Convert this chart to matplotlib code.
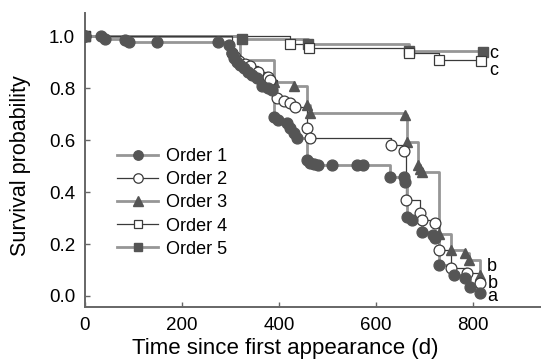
import numpy as np
import matplotlib
matplotlib.use('Agg')
import matplotlib.pyplot as plt

plt.rcParams['font.family'] = ['Liberation Sans', 'DejaVu Sans']

# Kaplan-Meier style survival curves
t1 = [0, 34, 41, 83, 91, 148, 275, 297, 303, 307, 313, 320, 327, 337, 344,
      354, 365, 378, 386, 390, 398, 417, 423, 430, 437, 457, 464, 472, 481, 509,
      561, 574, 629, 657, 660, 664, 675, 695, 718, 722, 729, 760, 784, 793, 815]
s1 = [1.0, 1.0, 0.99, 0.985, 0.978, 0.978, 0.978, 0.965, 0.935, 0.915, 0.9, 0.888, 0.877, 0.862, 0.85,
      0.838, 0.81, 0.8, 0.792, 0.688, 0.677, 0.665, 0.646, 0.627, 0.608, 0.523, 0.512, 0.508, 0.505, 0.505,
      0.505, 0.505, 0.46, 0.46, 0.44, 0.305, 0.292, 0.247, 0.235, 0.223, 0.119, 0.08, 0.069, 0.036, 0.012]

t2 = [0, 303, 310, 318, 330, 340, 357, 378, 382, 396, 410, 423, 433, 457, 464,
      630, 657, 662, 690, 695, 722, 729, 755, 788, 815]
s2 = [1.0, 0.935, 0.92, 0.905, 0.895, 0.885, 0.862, 0.843, 0.83, 0.762, 0.75, 0.742, 0.727, 0.646, 0.608,
      0.58, 0.56, 0.37, 0.318, 0.292, 0.28, 0.177, 0.108, 0.088, 0.05]

t3 = [0, 320, 390, 430, 457, 464, 660, 664, 687, 690, 695, 729, 755, 784, 791, 815]
s3 = [1.0, 0.908, 0.824, 0.81, 0.735, 0.705, 0.696, 0.593, 0.503, 0.49, 0.478, 0.24, 0.177, 0.165, 0.138, 0.08]

t4 = [0, 423, 462, 667, 729, 817]
s4 = [1.0, 0.97, 0.955, 0.935, 0.91, 0.905]

t5 = [0, 323, 460, 667, 820]
s5 = [1.0, 0.99, 0.97, 0.945, 0.938]

# group letters at the curve ends
end_labels = ['c', 'c', 'b', 'b', 'a']
label_x = [842, 842, 838, 840, 840]
label_y = [0.935, 0.87, 0.115, 0.048, -0.002]

thick = '#969696'
dark = '#555555'
thin = '#3a3a3a'

fig = plt.figure(figsize=(5.41, 3.61), dpi=100)
ax = fig.add_axes([0.157, 0.15, 0.843, 0.814])

series = [
    (t1, s1, 'Order 1', dict(color=thick, lw=2.0, marker='o', ms=7.8, mfc=dark, mec=dark)),
    (t2, s2, 'Order 2', dict(color=thin, lw=0.9, marker='o', ms=7.8, mfc='white', mec=thin, mew=0.9)),
    (t3, s3, 'Order 3', dict(color=thick, lw=2.0, marker='^', ms=7.8, mfc=dark, mec=dark)),
    (t4, s4, 'Order 4', dict(color=thin, lw=0.9, marker='s', ms=6.8, mfc='white', mec=thin, mew=0.9)),
    (t5, s5, 'Order 5', dict(color=thick, lw=2.0, marker='s', ms=6.8, mfc=dark, mec=dark)),
]

# draw in reverse so Order 1 sits on top
handles = {}
for t, s, name, st in reversed(series):
    ax.step(t, s, where='post', color=st['color'], lw=st['lw'], zorder=2)
    ax.plot(t, s, ls='none', marker=st['marker'], ms=st['ms'], mfc=st['mfc'],
            mec=st['mec'], mew=st.get('mew', 1.0), zorder=3)
    h, = ax.plot([], [], color=st['color'], lw=st['lw'], marker=st['marker'],
                 ms=st['ms'] - 1, mfc=st['mfc'], mec=st['mec'], mew=st.get('mew', 1.0))
    handles[name] = h

for lab, lx, ly in zip(end_labels, label_x, label_y):
    ax.text(lx, ly, lab, fontsize=13, ha='center', va='center')

ax.legend([handles[n] for _, _, n, _ in series], [n for _, _, n, _ in series],
          loc='upper left', bbox_to_anchor=(0.07, 0.54), frameon=False,
          fontsize=13, handlelength=2.3, handletextpad=0.4, labelspacing=0.34,
          borderpad=0, borderaxespad=0, numpoints=1)

ax.set_xlim(0, 940)
ax.set_ylim(-0.042, 1.09)
ax.set_xticks([0, 200, 400, 600, 800])
ax.set_yticks([0.0, 0.2, 0.4, 0.6, 0.8, 1.0])
ax.set_yticklabels(['0.0', '0.2', '0.4', '0.6', '0.8', '1.0'])
ax.tick_params(direction='in', length=3.5, width=1, colors='#666666',
               labelcolor='black', labelsize=13.5, pad=7)

for side in ['top', 'right']:
    ax.spines[side].set_visible(False)
for side in ['left', 'bottom']:
    ax.spines[side].set_color('#666666')
    ax.spines[side].set_linewidth(1.4)

ax.set_xlabel('Time since first appearance (d)', fontsize=16)
ax.set_ylabel('Survival probability', fontsize=15.5)
ax.xaxis.set_label_coords(0.44, -0.105)
ax.yaxis.set_label_coords(-0.118, 0.48)

fig.savefig('out.png', dpi=100)
